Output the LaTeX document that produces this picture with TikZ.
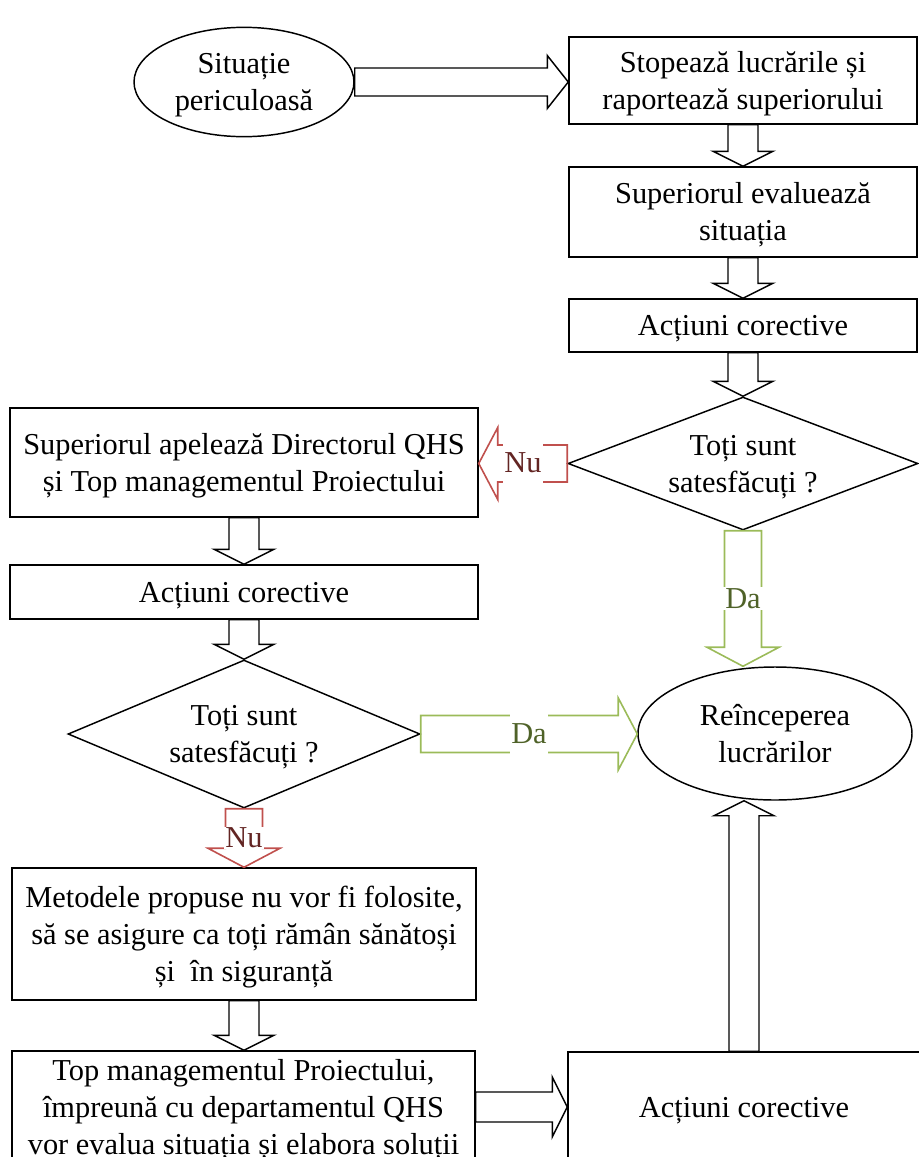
\documentclass[tikz,border=0pt]{standalone}
\usepackage{fontspec}
\setmainfont{Liberation Serif}
\usetikzlibrary{shapes.geometric,calc}
\definecolor{nuline}{HTML}{C0504D}
\definecolor{nutext}{HTML}{632523}
\definecolor{daline}{HTML}{9BBB59}
\definecolor{datext}{HTML}{4F6228}
\newcommand\setarr[3]{\def\sw{#1}\def\hw{#2}\def\hl{#3}}
\newcommand\darr[3][]{\draw[blk,#1] let \p1=#2, \p2=#3 in
  (\x1-\sw,\y1) -- (\x1-\sw,\y2+\hl) -- (\x1-\hw,\y2+\hl) -- (\x1,\y2) --
  (\x1+\hw,\y2+\hl) -- (\x1+\sw,\y2+\hl) -- (\x1+\sw,\y1) -- cycle;}
\newcommand\uarr[3][]{\draw[blk,#1] let \p1=#2, \p2=#3 in
  (\x1-\sw,\y1) -- (\x1-\sw,\y2-\hl) -- (\x1-\hw,\y2-\hl) -- (\x1,\y2) --
  (\x1+\hw,\y2-\hl) -- (\x1+\sw,\y2-\hl) -- (\x1+\sw,\y1) -- cycle;}
\newcommand\rarr[3][]{\draw[blk,#1] let \p1=#2, \p2=#3 in
  (\x1,\y1-\sw) -- (\x2-\hl,\y1-\sw) -- (\x2-\hl,\y1-\hw) -- (\x2,\y1) --
  (\x2-\hl,\y1+\hw) -- (\x2-\hl,\y1+\sw) -- (\x1,\y1+\sw) -- cycle;}
\newcommand\larr[3][]{\draw[blk,#1] let \p1=#2, \p2=#3 in
  (\x1,\y1-\sw) -- (\x2+\hl,\y1-\sw) -- (\x2+\hl,\y1-\hw) -- (\x2,\y1) --
  (\x2+\hl,\y1+\hw) -- (\x2+\hl,\y1+\sw) -- (\x1,\y1+\sw) -- cycle;}
\newcommand\ts{\rule{0pt}{21pt}}
\newcommand\bs{\rule[-6pt]{0pt}{6pt}}
\begin{document}
\begin{tikzpicture}[x=0.75pt,y=-0.75pt,
  every node/.style={font=\fontsize{22.8}{27.75}\selectfont, align=center},
  box/.style={draw, line width=1.1pt, rectangle, inner sep=0pt},
  ell/.style={draw, line width=1.1pt, ellipse, inner sep=0pt},
  dia/.style={draw, line width=1.1pt, diamond, inner sep=0pt},
  blk/.style={draw=black, line width=1.1pt, line join=miter},
  nuarr/.style={draw=nuline, line width=1.2pt},
  daarr/.style={draw=daline, line width=1.2pt},
  lab/.style={fill=white, inner sep=1pt},
  vlab/.style={lab, minimum width=30pt},
  hlab/.style={lab, minimum height=30pt}]
\useasboundingbox (0,0) rectangle (918,1157);
\node[ell, minimum width=165pt, minimum height=82pt] (ell1) at (244,82) {\ts Situație\\periculoasă\bs};
\node[box, minimum width=261pt, minimum height=65.25pt] (box1) at (743,80.5) {\ts Stopează lucrările și\\raportează superiorului\bs};
\node[box, minimum width=261pt, minimum height=67.5pt] (box2) at (743,212) {\ts Superiorul evaluează\\situația\bs};
\node[box, minimum width=261pt, minimum height=39.75pt] (box3) at (743,325.5) {\ts Acțiuni corective\bs};
\node[dia, shape aspect=2.63, minimum width=262.5pt, minimum height=99.75pt] (dia1) at (743,463.5) {\ts Toți sunt\\satesfăcuți ?\bs};
\node[box, minimum width=351pt, minimum height=81.75pt] (box4) at (244,462.5) {\ts Superiorul apelează Directorul QHS\\și Top managementul Proiectului\bs};
\node[box, minimum width=351pt, minimum height=40.5pt] (box5) at (244,592) {\ts Acțiuni corective\bs};
\node[dia, shape aspect=2.378, minimum width=264pt, minimum height=111pt] (dia2) at (244,734) {\ts Toți sunt\\satesfăcuți ?\bs};
\node[ell, minimum width=205.5pt, minimum height=99.75pt] (ell2) at (775,733.5) {\ts Reînceperea\\lucrărilor\bs};
\node[box, minimum width=348pt, minimum height=99pt] (box6) at (244,934) {\ts Metodele propuse nu vor fi folosite,\\să se asigure ca toți rămân sănătoși\\și \ în siguranță\bs};
\node[box, minimum width=347.25pt, minimum height=84pt] (box7) at (243.5,1107) {\ts Top managementul Proiectului,\\împreună cu departamentul QHS\\vor evalua situația și elabora soluții\bs};
\node[box, minimum width=264pt, minimum height=82.5pt] (box8) at (744,1107) {\ts Acțiuni corective\bs};
% black block arrows
\setarr{10.5pt}{19.875pt}{15.75pt}
\rarr{(ell1.east)}{(box1.west)}
\setarr{11.25pt}{22.5pt}{11.25pt}
\darr{(box1.south)}{(box2.north)}
\darr{(box2.south)}{(box3.north)}
\darr{(box3.south)}{(dia1.north)}
\darr{(box4.south)}{(box5.north)}
\darr{(box5.south)}{(dia2.north)}
\darr{(box6.south)}{(box7.north)}
\rarr{(box7.east)}{(box8.west)}
\uarr{(box8.north)}{(box8.north |- ell2.south)}
% coloured decision arrows
\setarr{13.875pt}{27pt}{14.25pt}
\larr[nuarr]{(dia1.west)}{(box4.east)}
\darr[daarr]{(dia1.south)}{(dia1.south |- ell2.north)}
\rarr[daarr]{(dia2.east)}{(ell2.west)}
\darr[nuarr]{(dia2.south)}{(box6.north)}
\node[hlab, text=nutext] (nu1) at ($(dia1.west)!0.5!(box4.east)$) {Nu};
\node[vlab, text=datext] (da1) at ($(dia1.south)!0.5!(dia1.south |- ell2.north)$) {Da};
\node[hlab, text=datext] (da2) at ($(dia2.east)!0.5!(ell2.west)$) {Da};
\node[vlab, text=nutext] (nu2) at ($(dia2.south)!0.5!(box6.north)$) {Nu};
\end{tikzpicture}
\end{document}
